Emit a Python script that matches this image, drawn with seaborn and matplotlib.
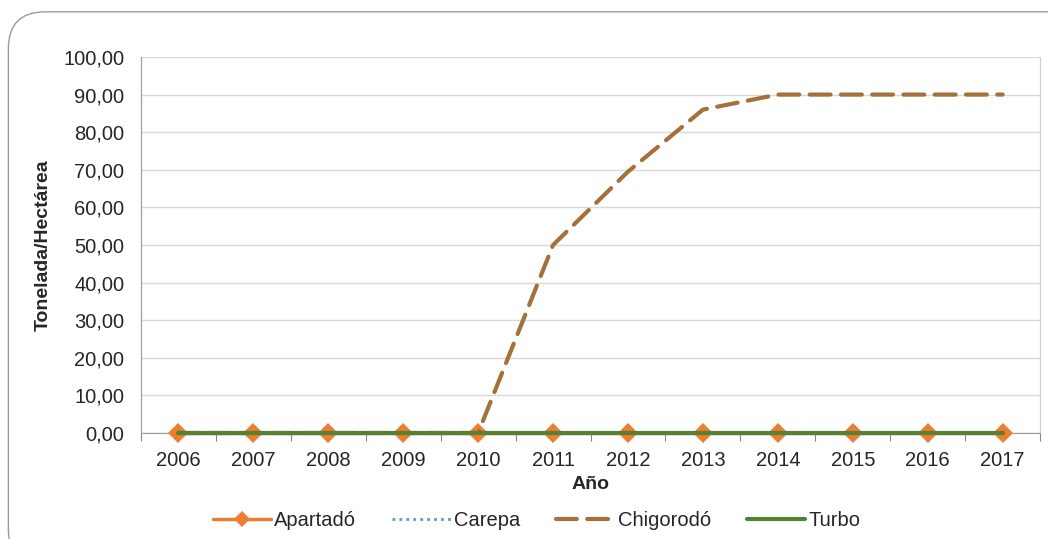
import matplotlib
matplotlib.use("Agg")
import matplotlib.pyplot as plt
from matplotlib.patches import FancyBboxPatch
from matplotlib.ticker import FuncFormatter, FixedLocator
import seaborn as sns
import pandas as pd
import numpy as np

# ---------------- Data ----------------
years = ["2006", "2007", "2008", "2009", "2010", "2011",
         "2012", "2013", "2014", "2015", "2016", "2017"]
apartado = [0, 0, 0, 0, 0, 0, 0, 0, 0, 0, 0, 0]
carepa = [0, 0, 0, 0, 0, 0, 0, 0, 0, 0, 0, 0]
chigorodo = [0, 0, 0, 0, 0, 50, 69.5, 86, 90, 90, 90, 90]
turbo = [0, 0, 0, 0, 0, 0, 0, 0, 0, 0, 0, 0]

sns.set_style("white")
plt.rcParams['font.family'] = ['Liberation Sans', 'DejaVu Sans']

pos = np.arange(len(years))
df = pd.DataFrame({"pos": pos, "Apartadó": apartado, "Carepa": carepa,
                   "Chigorodó": chigorodo, "Turbo": turbo})

fig = plt.figure(figsize=(10.48, 5.39), dpi=100)
ax = fig.add_axes([0.1345, 0.1967, 0.858, 0.6976])

# rounded chart border
border = FancyBboxPatch((0.008, -0.05), 1.05, 1.028, boxstyle="round,pad=0,rounding_size=0.035",
                        transform=fig.transFigure, facecolor="none", edgecolor="#9a9a9a",
                        linewidth=1.0, mutation_aspect=1048 / 539)
fig.patches.append(border)

sns.lineplot(data=df, x="pos", y="Apartadó", ax=ax, color="#ED7D31", linewidth=2.5,
             marker="D", markersize=10, markeredgewidth=0, label="Apartadó", zorder=3,
             clip_on=False)
sns.lineplot(data=df, x="pos", y="Carepa", ax=ax, color="#5B9BD5", linewidth=2,
             linestyle=(0, (1, 1.5)), label="Carepa", zorder=4, clip_on=False)
sns.lineplot(data=df, x="pos", y="Chigorodó", ax=ax, color="#A5713A", linewidth=3,
             linestyle=(0, (5, 2.5)), label="Chigorodó", zorder=4, dash_capstyle="round",
             clip_on=False)
sns.lineplot(data=df, x="pos", y="Turbo", ax=ax, color="#548235", linewidth=3,
             label="Turbo", zorder=5, clip_on=False)

ax.set_xlim(-0.5, len(years) - 0.5)
ax.set_ylim(0, 100)
ax.set_yticks(np.arange(0, 101, 10))
ax.yaxis.set_major_formatter(FuncFormatter(lambda v, p: f"{v:.2f}".replace(".", ",")))
ax.set_xticks(pos)
ax.set_xticklabels(years)
ax.xaxis.set_minor_locator(FixedLocator(np.arange(-0.5, len(years), 1)))
ax.tick_params(axis="x", which="major", length=0, labelsize=14.5, pad=13)
ax.tick_params(axis="x", which="minor", length=6, color="#888888", width=0.8, bottom=True)
ax.tick_params(axis="y", length=0, labelsize=14.5, pad=12)

ax.grid(axis="y", color="#d9d9d9", linewidth=1)
ax.set_axisbelow(True)
for side in ["left", "bottom", "right"]:
    ax.spines[side].set_color("#a0a0a0")
    ax.spines[side].set_linewidth(0.9)
ax.spines["right"].set_color("#d0d0d0")
ax.spines["top"].set_visible(False)

ax.set_xlabel("Año", fontsize=14, fontweight="bold", labelpad=4)
ax.set_ylabel("Tonelada/Hectárea", fontsize=14, fontweight="bold", labelpad=8)

leg = ax.legend(loc="upper center", bbox_to_anchor=(0.44, -0.16), ncol=4, frameon=False,
                fontsize=14.5, handlelength=2.9, handletextpad=0.15, columnspacing=1.8,
                markerscale=0.8)

fig.savefig("out.png", dpi=100)
